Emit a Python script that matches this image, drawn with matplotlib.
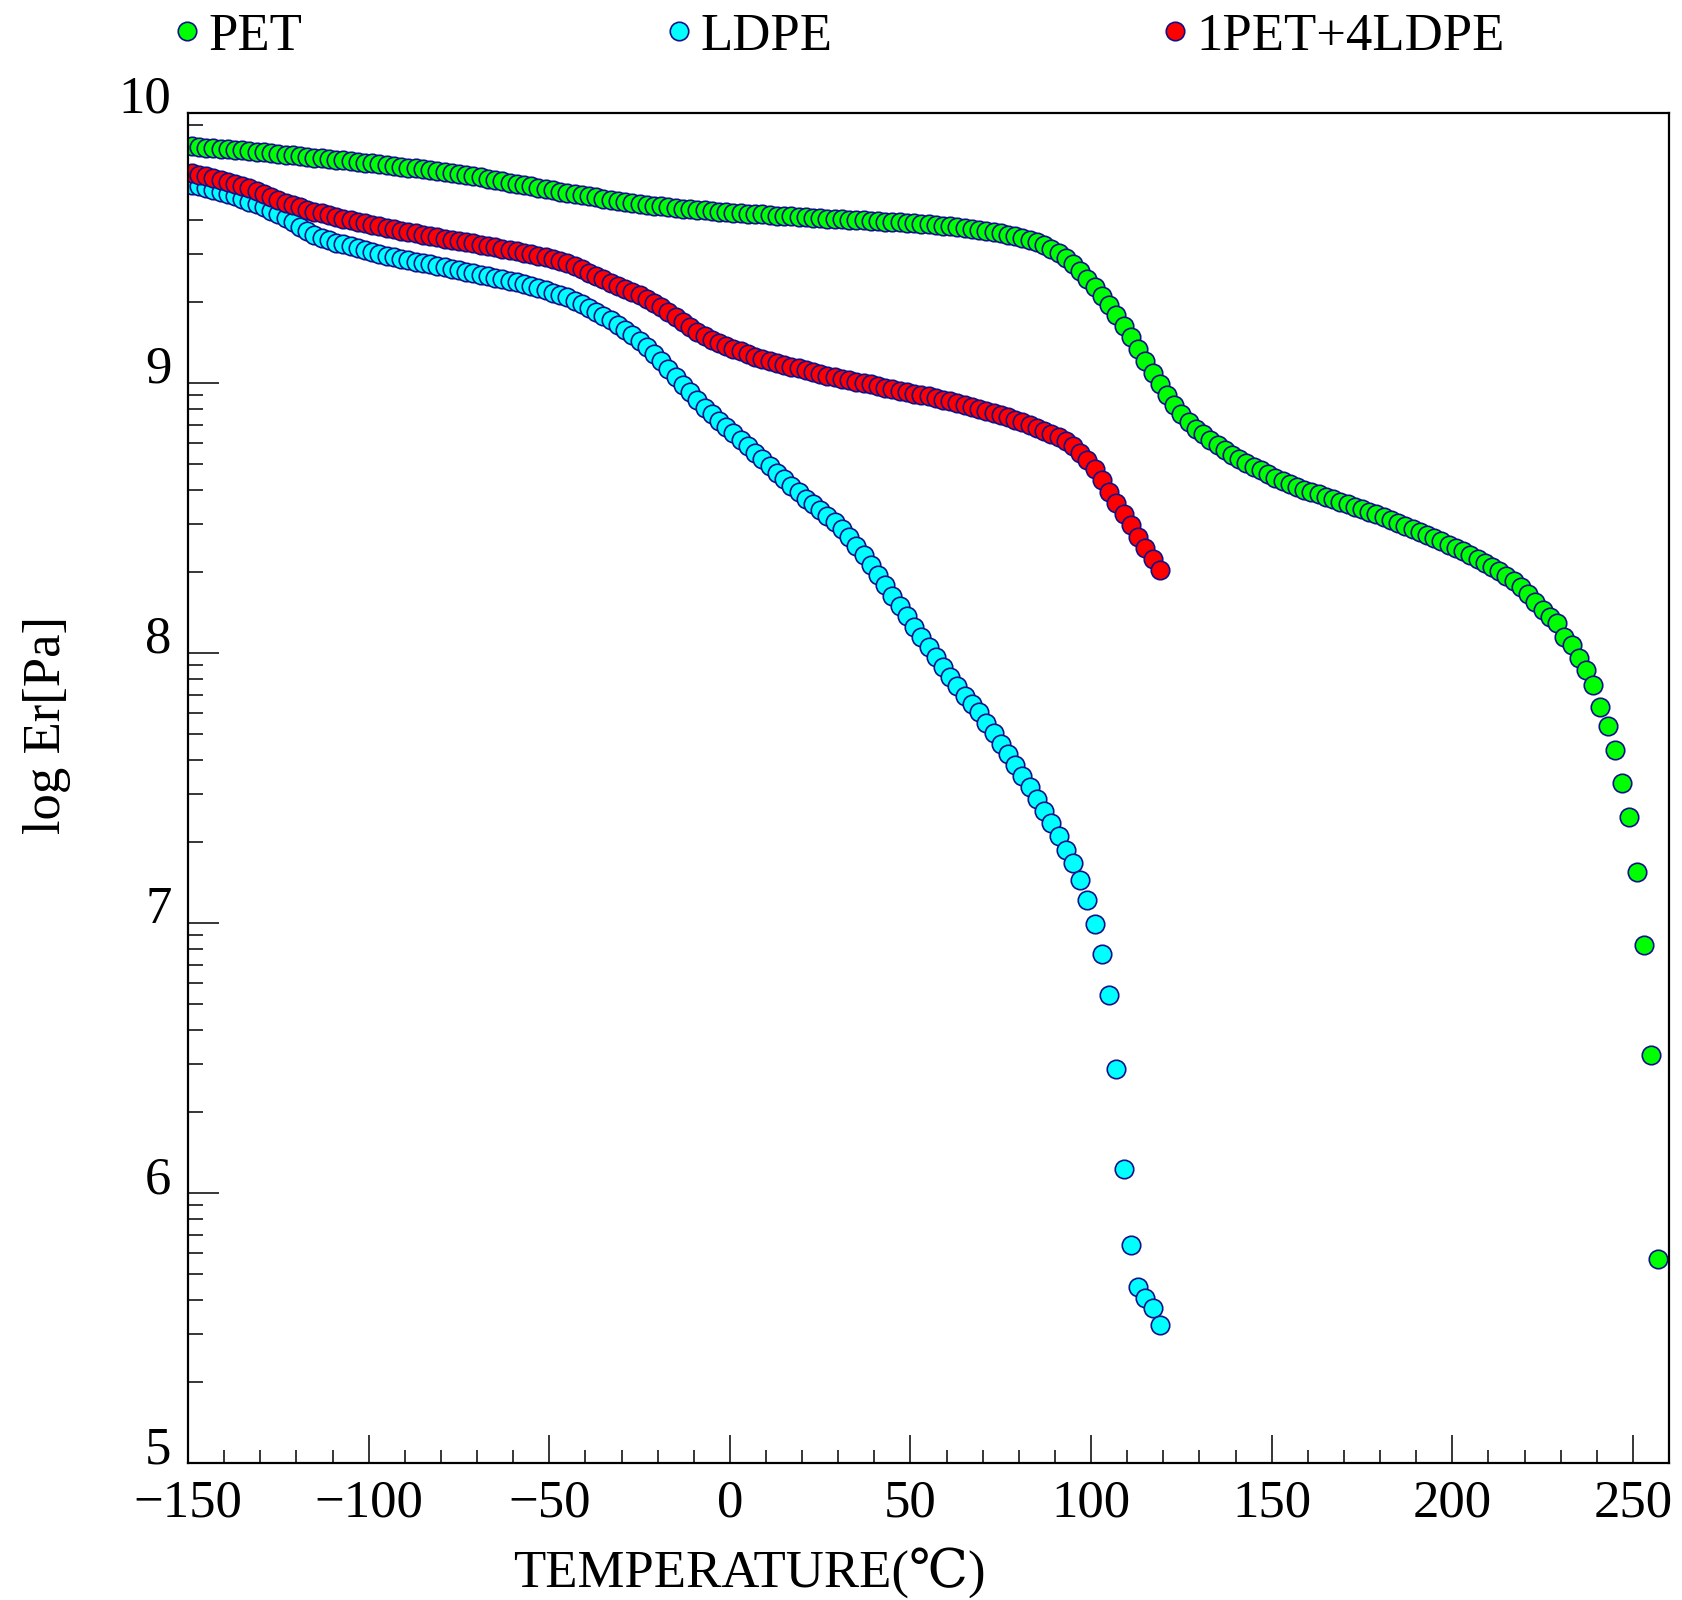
import numpy as np
import matplotlib
matplotlib.use('Agg')
import matplotlib.pyplot as plt
from matplotlib.lines import Line2D
from matplotlib.ticker import MultipleLocator, LogLocator, FuncFormatter, NullFormatter

plt.rcParams['font.family'] = ['Liberation Serif', 'DejaVu Serif', 'DejaVu Sans', 'Noto Sans CJK JP']
plt.rcParams['axes.unicode_minus'] = True

pet_start = -149
pet_log_er = [
    9.876, 9.874, 9.872, 9.869, 9.867, 9.865, 9.863, 9.861, 9.858, 9.856,
    9.854, 9.851, 9.849, 9.846, 9.843, 9.841, 9.838, 9.835, 9.832, 9.830,
    9.827, 9.824, 9.821, 9.818, 9.816,
    9.813, 9.810, 9.807, 9.804, 9.801, 9.798, 9.795, 9.791, 9.788, 9.784,
    9.780, 9.777, 9.773, 9.769, 9.765, 9.761, 9.756, 9.752, 9.747, 9.742,
    9.738, 9.733, 9.728, 9.723, 9.717,
    9.713, 9.708, 9.704, 9.699, 9.695, 9.691, 9.687, 9.682, 9.678, 9.674,
    9.670, 9.667, 9.663, 9.660, 9.657, 9.654, 9.651, 9.649, 9.646, 9.643,
    9.641, 9.639, 9.637, 9.635, 9.633,
    9.631, 9.629, 9.627, 9.626, 9.624, 9.622, 9.620, 9.619, 9.617, 9.616,
    9.614, 9.612, 9.611, 9.609, 9.608, 9.606, 9.605, 9.603, 9.602, 9.600,
    9.599, 9.597, 9.596, 9.595, 9.593,
    9.592, 9.590, 9.588, 9.586, 9.583, 9.581, 9.578, 9.575, 9.572, 9.568,
    9.564, 9.559, 9.554, 9.548, 9.543, 9.537, 9.530, 9.522, 9.512, 9.498,
    9.482, 9.464, 9.440, 9.414, 9.385,
    9.355, 9.323, 9.290, 9.252, 9.212, 9.169, 9.125, 9.080, 9.037, 8.995,
    8.955, 8.918, 8.885, 8.857, 8.831, 8.810, 8.790, 8.770, 8.752, 8.734,
    8.718, 8.704, 8.690, 8.676, 8.662,
    8.649, 8.637, 8.625, 8.615, 8.605, 8.596, 8.587, 8.578, 8.569, 8.560,
    8.551, 8.542, 8.533, 8.524, 8.515, 8.505, 8.494, 8.483, 8.472, 8.461,
    8.449, 8.437, 8.426, 8.414, 8.401,
    8.389, 8.376, 8.362, 8.348, 8.333, 8.318, 8.302, 8.285, 8.265, 8.243,
    8.218, 8.190, 8.160, 8.135,
    8.110, 8.060, 8.031, 7.980, 7.938, 7.880, 7.800, 7.728, 7.639, 7.520,
    7.391, 7.190, 6.920, 6.510, 5.754,
]

ldpe_start = -149
ldpe_log_er = [
    9.735, 9.729, 9.722, 9.716, 9.709, 9.700, 9.691, 9.682, 9.672, 9.661,
    9.650, 9.638, 9.625, 9.611, 9.595, 9.578, 9.562, 9.548, 9.537, 9.528,
    9.520, 9.513, 9.506, 9.499, 9.492, 9.485, 9.478, 9.471, 9.465, 9.460,
    9.454, 9.449, 9.444, 9.439, 9.434, 9.429, 9.423, 9.418, 9.412, 9.407,
    9.401, 9.396, 9.390, 9.385, 9.379, 9.374, 9.367, 9.360, 9.352, 9.344,
    9.335, 9.326, 9.317, 9.305, 9.292, 9.278, 9.263, 9.248, 9.232, 9.215,
    9.197, 9.178, 9.157, 9.134, 9.108, 9.080, 9.052, 9.023, 8.994, 8.965,
    8.936, 8.909, 8.884, 8.860, 8.836, 8.813, 8.789, 8.765, 8.741, 8.717,
    8.692, 8.668, 8.643, 8.619, 8.595, 8.572, 8.550, 8.528, 8.508, 8.486,
    8.460, 8.430, 8.398, 8.362, 8.325, 8.288, 8.250, 8.212, 8.174, 8.136,
    8.097, 8.059, 8.021, 7.984, 7.948, 7.911, 7.876, 7.842, 7.810, 7.780,
    7.742, 7.702, 7.664, 7.625, 7.585, 7.544, 7.502, 7.460, 7.416, 7.369,
    7.322, 7.272, 7.223, 7.160, 7.085, 6.995, 6.885, 6.735, 6.460, 6.090,
    5.806, 5.652, 5.613, 5.574, 5.511,
]

blend_start = -149
blend_log_er = [
    9.778, 9.772, 9.766, 9.760, 9.753, 9.746, 9.738, 9.729, 9.721, 9.711,
    9.700, 9.690, 9.679, 9.668, 9.659, 9.650, 9.642, 9.635, 9.628, 9.621,
    9.615, 9.608, 9.602, 9.596, 9.591, 9.586, 9.580, 9.575, 9.569, 9.564,
    9.559, 9.554, 9.549, 9.544, 9.540, 9.535, 9.531, 9.526, 9.521, 9.517,
    9.512, 9.507, 9.502, 9.497, 9.492, 9.487, 9.482, 9.477, 9.471, 9.465,
    9.459, 9.452, 9.443, 9.433, 9.421, 9.409, 9.396, 9.384, 9.372, 9.360,
    9.349, 9.338, 9.325, 9.312, 9.297, 9.280, 9.262, 9.244, 9.226, 9.208,
    9.190, 9.174, 9.160, 9.148, 9.137, 9.127, 9.117, 9.107, 9.098, 9.089,
    9.081, 9.074, 9.067, 9.060, 9.054, 9.047, 9.041, 9.034, 9.027, 9.021,
    9.015, 9.010, 9.005, 9.000, 8.995, 8.989, 8.983, 8.977, 8.971, 8.966,
    8.961, 8.955, 8.950, 8.944, 8.938, 8.932, 8.925, 8.918, 8.911, 8.904,
    8.897, 8.889, 8.881, 8.873, 8.864, 8.855, 8.845, 8.834, 8.823, 8.812,
    8.800, 8.785, 8.766, 8.742, 8.713, 8.680, 8.640, 8.597, 8.556, 8.515,
    8.473, 8.430, 8.389, 8.348, 8.307,
]

labels = ['PET', 'LDPE', '1PET+4LDPE']
colors = ['#00ff00', '#00ffff', '#ff0000']
edge = '#10108a'

series = [(pet_start, pet_log_er), (ldpe_start, ldpe_log_er), (blend_start, blend_log_er)]

fig = plt.figure(figsize=(16.82, 16.0), dpi=100)
ax = fig.add_axes([0.1118, 0.0856, 0.8805, 0.8438])

for (t0, vals), c in zip(series, colors):
    vals = np.array(vals)
    temps = np.arange(t0, t0 + 2 * len(vals), 2)[:len(vals)]
    ax.plot(temps, 10 ** vals, 'o', ms=13.3, mfc=c, mec=edge, mew=1.2, ls='none')

ax.set_yscale('log')
ax.set_xlim(-150, 260)
ax.set_ylim(1e5, 1e10)

ax.xaxis.set_major_locator(MultipleLocator(50))
ax.xaxis.set_minor_locator(MultipleLocator(10))
ax.yaxis.set_major_locator(LogLocator(base=10, numticks=20))
ax.yaxis.set_minor_locator(LogLocator(base=10, subs=np.arange(2, 10), numticks=20))
ax.yaxis.set_major_formatter(FuncFormatter(lambda v, p: f"{np.log10(v):.0f}"))
ax.yaxis.set_minor_formatter(NullFormatter())

ax.tick_params(which='both', direction='in', top=False, right=False, width=1.1, labelsize=38)
ax.tick_params(axis='x', which='major', length=20, pad=12)
ax.tick_params(axis='x', which='minor', length=9.5)
ax.tick_params(axis='y', which='major', length=22, pad=12)
ax.tick_params(axis='y', which='minor', length=11)
for lbl in ax.get_yticklabels():
    lbl.set_verticalalignment('baseline')
for s in ax.spines.values():
    s.set_linewidth(1.6)

ax.set_xlabel('TEMPERATURE(\u2103)', fontsize=38)
ax.xaxis.set_label_coords(0.379, -0.062)
ax.set_ylabel('log Er[Pa]', fontsize=38)
ax.yaxis.set_label_coords(-0.079, 0.547)

legend_x = [0.1033, 0.3960, 0.6907]
for lab, c, lx in zip(labels, colors, legend_x):
    h = Line2D([], [], marker='o', ls='none', ms=13.3, mfc=c, mec=edge, mew=1.2)
    leg = fig.legend(handles=[h], labels=[lab], loc='center left', bbox_to_anchor=(lx, 0.977),
                     frameon=False, fontsize=38, handlelength=0.5, handletextpad=0.15,
                     borderpad=0, borderaxespad=0)

fig.savefig('out.png', dpi=100)
